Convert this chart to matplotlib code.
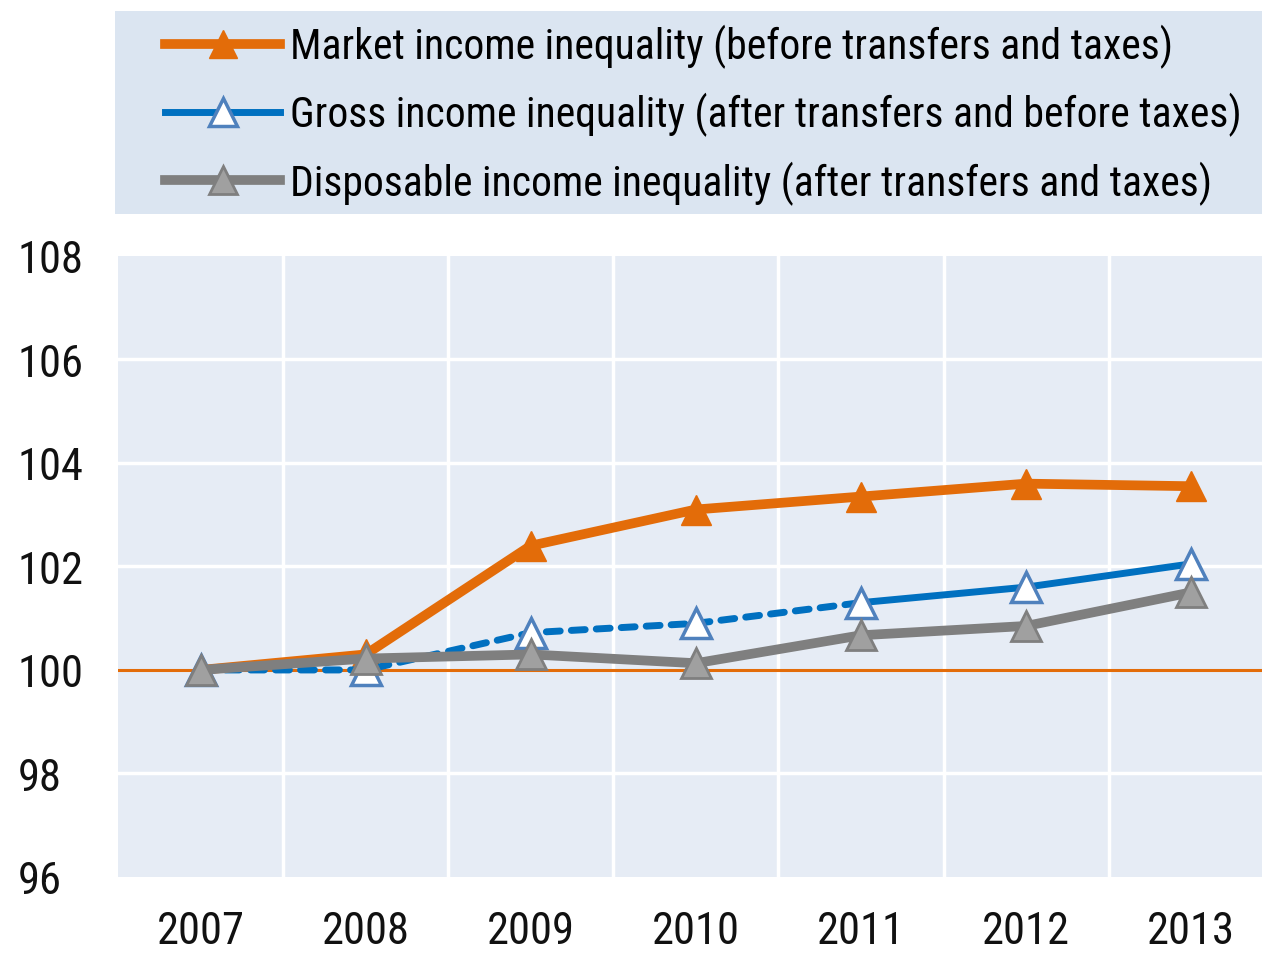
import matplotlib
matplotlib.use('Agg')
import matplotlib.pyplot as plt
from matplotlib.lines import Line2D
from matplotlib.patches import Rectangle

plt.rcParams['font.family'] = ['Roboto Condensed', 'Archivo Narrow', 'DejaVu Sans']

# data
years = [2007, 2008, 2009, 2010, 2011, 2012, 2013]
market = [100.0, 100.3, 102.4, 103.1, 103.35, 103.6, 103.55]
gross = [100.0, 100.0, 100.72, 100.9, 101.3, 101.6, 102.05]
disposable = [100.0, 100.22, 100.3, 100.13, 100.67, 100.85, 101.5]
labels = ['Market income inequality (before transfers and taxes)',
          'Gross income inequality (after transfers and before taxes)',
          'Disposable income inequality (after transfers and taxes)']

orange = '#E36C09'
blue = '#0070C0'
blue_edge = '#4F81BD'
grey = '#7F7F7F'
grey_fill = '#A0A0A0'

W, H = 1263, 954
fig = plt.figure(figsize=(W / 100, H / 100), dpi=100)
ax = fig.add_axes([0.0934, 0.0797, 0.906, 0.651])
ax.set_facecolor('#E6ECF5')

# reference line at 100
ax.axhline(100, color=orange, lw=2.2, zorder=1)

ax.plot(years, market, color=orange, lw=7, marker='^', ms=21,
        mfc=orange, mec=orange, zorder=3)

# gross: dashed until 2011, solid afterwards
ax.plot(years[:5], gross[:5], color=blue, lw=5, ls=(0, (2, 1.6)),
        dash_capstyle='round', zorder=4)
ax.plot(years[4:], gross[4:], color=blue, lw=5, zorder=4)
ax.plot(years, gross, ls='none', marker='^', ms=21, mfc='white',
        mec=blue_edge, mew=2.5, zorder=4)

ax.plot(years, disposable, color=grey, lw=7, marker='^', ms=21,
        mfc=grey_fill, mec=grey, mew=2, zorder=5)

ax.set_xlim(2006.5, 2013.43)
ax.set_ylim(96, 108)
ax.set_yticks([96, 98, 100, 102, 104, 106, 108])
ax.set_xticks(years)
ax.grid(False)
for v in [98, 102, 104, 106]:
    ax.axhline(v, color='white', lw=2.5, zorder=0.5)
for x in [y + 0.5 for y in years[:-1]]:
    ax.axvline(x, color='white', lw=2.5, zorder=0.5)
for s in ax.spines.values():
    s.set_visible(False)
ax.tick_params(axis='both', which='both', length=0, labelsize=32, colors='#111111')
ax.tick_params(axis='x', pad=24)
ax.tick_params(axis='y', pad=72)
for t in ax.get_yticklabels():
    t.set_horizontalalignment('left')

# legend background box
fig.patches.append(Rectangle((115 / W, 1 - 215 / H), (1262 - 115) / W, 203 / H,
                             transform=fig.transFigure, facecolor='#DBE5F1',
                             edgecolor='none', zorder=0))

handles = [
    Line2D([0], [0], color=orange, lw=7, marker='^', ms=20, mfc=orange, mec=orange),
    Line2D([0], [0], color=blue, lw=5, marker='^', ms=20, mfc='white', mec=blue_edge, mew=2.5),
    Line2D([0], [0], color=grey, lw=7, marker='^', ms=20, mfc=grey_fill, mec=grey, mew=2),
]
leg = fig.legend(handles, labels, loc='upper left', bbox_to_anchor=(165 / W, 1 - 25 / H),
                 frameon=False, fontsize=30, handlelength=2.76, handletextpad=0.24,
                 labelspacing=0.58, borderpad=0, numpoints=1, borderaxespad=0)

fig.savefig('out.png', dpi=100, facecolor='white')
